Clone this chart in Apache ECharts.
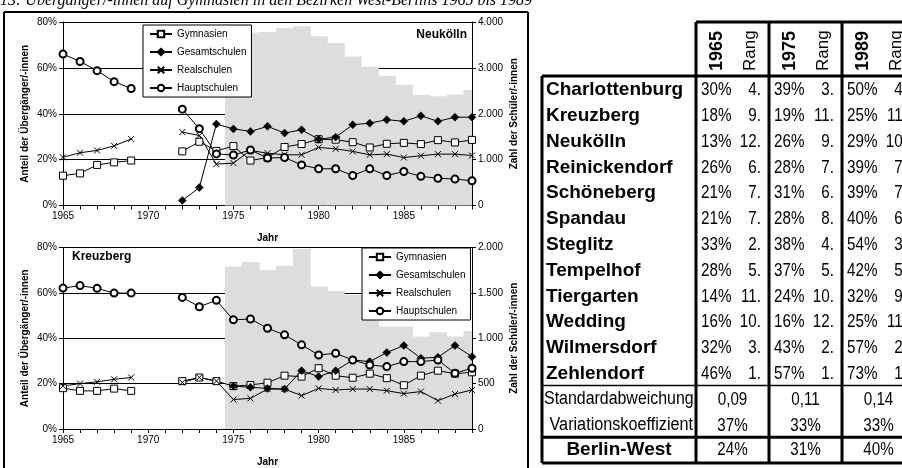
<!DOCTYPE html>
<html><head><meta charset="utf-8">
<script src="https://cdn.jsdelivr.net/npm/echarts@6/dist/echarts.min.js"></script>
<style>html,body{margin:0;padding:0;background:#fff}#c{width:902px;height:468px}</style>
</head><body><div id="c"></div>
<script>
// ---------- DATA ----------
const years = [1965,1966,1967,1968,1969,1970,1971,1972,1973,1974,1975,1976,1977,1978,1979,1980,1981,1982,1983,1984,1985,1986,1987,1988,1989];
const seriesNames = ['Gymnasien','Gesamtschulen','Realschulen','Hauptschulen'];
// Neukölln (% of transfers)
const nkGym   = [13,14,17.7,18.8,19.6,null,null,23.6,27.8,23.8,25.9,19.6,20.9,25.5,26.8,28.9,28.7,27.6,25.3,26.9,27.3,26.8,28.5,27.5,28.6];
const nkGes   = [null,null,null,null,null,null,null,2.2,7.8,35.5,33.4,32.3,34.5,31.6,33.0,28.9,29.8,35.2,35.9,37.4,36.7,39.1,36.7,38.5,38.5];
const nkReal  = [21,23,24,26,29,null,null,32,30.5,18,18.5,24,22.8,22.1,22.1,25.3,24.7,23.6,22.1,22.4,20.9,21.7,22.4,22.4,21.8];
const nkHaupt = [66,62.8,58.8,54,51,null,null,42,33.5,22.5,22,24.2,20.7,20.9,17.7,16,16,13.1,16,13.1,14.8,12.7,11.9,11.5,10.8];
// Neukölln pupils in grade 7 (from 1975)
const pupilYears = [1975,1976,1977,1978,1979,1980,1981,1982,1983,1984,1985,1986,1987,1988,1989];
const nkPupils = [3770,3770,3780,3870,3905,3690,3540,3250,3030,2830,2630,2410,2380,2420,2520];
// Kreuzberg
const kbGym   = [18,16.8,16.8,17.8,16.8,null,null,21.1,22.7,21.1,18.9,19.4,20.4,23.5,23.1,26.8,23.5,22.6,24.4,22.4,19.3,23.5,25.7,24.4,25.0];
const kbGes   = [null,null,null,null,null,null,null,null,null,null,18.9,18.4,17.9,17.6,25.7,23.1,25.7,30.4,29.7,33.7,36.8,31.2,31.6,36.8,31.9];
const kbReal  = [19,20,20.8,21.9,22.7,null,null,20.5,22.7,21.1,13.0,13.5,17.6,17.6,14.7,17.9,17.2,17.6,17.6,16.9,15.6,16.5,12.5,15.4,17.2];
const kbHaupt = [62.1,63.2,62.0,59.9,59.9,null,null,58.0,53.9,56.7,48.1,48.5,44.4,41.5,37.1,32.6,33.4,30.4,28.2,27.5,29.7,29.7,30.4,24.6,26.8];
const kbPupils = [1790,1840,1750,1800,1985,1570,1520,1480,1400,1130,1130,1020,1065,1020,1080];
// Table
const districts = ['Charlottenburg','Kreuzberg','Neukölln','Reinickendorf','Schöneberg','Spandau','Steglitz','Tempelhof','Tiergarten','Wedding','Wilmersdorf','Zehlendorf'];
const tableYears = ['1965','1975','1989'];
const pct1965 = ['30%','18%','13%','26%','21%','21%','33%','28%','14%','16%','32%','46%'];
const rank1965 = ['4.','9.','12.','6.','7.','7.','2.','5.','11.','10.','3.','1.'];
const pct1975 = ['39%','19%','26%','28%','31%','28%','38%','37%','24%','16%','43%','57%'];
const rank1975 = ['3.','11.','9.','7.','6.','8.','4.','5.','10.','12.','2.','1.'];
const pct1989 = ['50%','25%','29%','39%','39%','40%','54%','42%','32%','25%','57%','73%'];
const rank1989 = ['4.','11.','10.','7.','7.','6.','3.','5.','9.','11.','2.','1.'];
const stdDev = ['0,09','0,11','0,14'];
const varCoef = ['37%','33%','33%'];
const berlinWest = ['24%','31%','40%'];
const titleText = '13: Übergänger/-innen auf Gymnasien in den Bezirken West-Berlins 1965 bis 1989';

// ---------- CHART ----------
const FONT = 'Liberation Sans, Arial, sans-serif';
const chart = echarts.init(document.getElementById('c'), null, {renderer:'canvas'});
const pair = arr => years.map((y,i)=>[y,arr[i]]);
const thou = v => String(v).replace(/\B(?=(\d{3})+(?!\d))/g,'.');

const crossPath = 'path://M0,0L10,10M0,10L10,0';
const styles = {
  Gymnasien:{symbol:'rect',symbolSize:7,itemStyle:{color:'#fff',borderColor:'#000',borderWidth:1}},
  Gesamtschulen:{symbol:'diamond',symbolSize:8,itemStyle:{color:'#000',borderColor:'#000',borderWidth:0.5}},
  Realschulen:{symbol:crossPath,symbolSize:6,itemStyle:{color:'rgba(0,0,0,0)',borderColor:'#000',borderWidth:1}},
  Hauptschulen:{symbol:'circle',symbolSize:7,itemStyle:{color:'#fff',borderColor:'#000',borderWidth:2}}
};
function lineSeries(name, arr, gi){
  const s = styles[name];
  return {type:'line', name, xAxisIndex:gi, yAxisIndex:gi*2, data:pair(arr), connectNulls:false,
    symbol:s.symbol, symbolSize:s.symbolSize, showSymbol:true, itemStyle:s.itemStyle,
    lineStyle:{color:'#000',width:1}, z:5, animation:false, emphasis:{disabled:true}};
}
function barSeries(vals, gi){
  return {type:'custom', xAxisIndex:gi, yAxisIndex:gi*2+1, z:1, animation:false, silent:true,
    data: pupilYears.map((y,i)=>[y,vals[i]]),
    renderItem:(params, api)=>{
      const yr = api.value(0), v = api.value(1);
      const p1 = api.coord([yr-0.5, v]); const p2 = api.coord([yr+0.5, 0]);
      const cs = params.coordSys;
      const r = echarts.graphic.clipRectByRect({x:p1[0], y:p1[1], width:p2[0]-p1[0]+0.6, height:p2[1]-p1[1]},
        {x:cs.x, y:cs.y, width:cs.width, height:cs.height});
      if(!r) return;
      return {type:'rect', shape:r, style:{fill:'#dddddd'}};
    }};
}
function xAx(gi){
  return {type:'value', gridIndex:gi, min:1965, max:1989, interval:1,
    axisLine:{lineStyle:{color:'#000',width:1}}, axisTick:{length:4,lineStyle:{color:'#000'}},
    axisLabel:{formatter:v=> v%5===0?String(v):'', color:'#000', fontSize:10, fontFamily:FONT, margin:6},
    splitLine:{show:false}, name:'Jahr', nameLocation:'middle', nameGap:28,
    nameTextStyle:{fontWeight:'bold',fontSize:10,color:'#000',fontFamily:FONT}};
}
function yLeft(gi){
  return {type:'value', gridIndex:gi, min:0, max:80, interval:20, position:'left',
    axisLine:{show:true,lineStyle:{color:'#000'}}, axisTick:{show:true,length:4,lineStyle:{color:'#000'}},
    axisLabel:{formatter:'{value}%', color:'#000', fontSize:10, fontFamily:FONT, margin:6},
    splitLine:{show:true,lineStyle:{color:'#000',width:1}},
    name:'Anteil der Übergänger/-innen', nameLocation:'middle', nameRotate:90, nameGap:33,
    nameTextStyle:{fontWeight:'bold',fontSize:10,color:'#000',fontFamily:FONT}};
}
function yRight(gi,max,interval){
  return {type:'value', gridIndex:gi, min:0, max, interval, position:'right',
    axisLine:{show:true,lineStyle:{color:'#000'}}, axisTick:{show:true,length:4,lineStyle:{color:'#000'}},
    axisLabel:{formatter:v=>thou(v), color:'#000', fontSize:10, fontFamily:FONT, margin:6},
    splitLine:{show:false},
    name:'Zahl der Schüler/-innen', nameLocation:'middle', nameRotate:90, nameGap:37,
    nameTextStyle:{fontWeight:'bold',fontSize:10,color:'#000',fontFamily:FONT}};
}
function legend(left, top){
  return {data:seriesNames, orient:'vertical', left, top, itemWidth:22, itemHeight:8, itemGap:8,
    selectedMode:false, z:10, backgroundColor:'#fff', borderColor:'#000', borderWidth:1, borderRadius:0,
    padding:[4,5,4,6], textStyle:{fontSize:10,color:'#000',fontFamily:FONT}};
}

// ---------- GRAPHIC (frame, labels, table) ----------
const g = [];
const txt = (x,y,text,font,opts={}) => g.push(Object.assign({type:'text', x, y, silent:true,
  style:Object.assign({text, font, fill:'#000', align:'left', verticalAlign:'middle'}, opts.style||{})},
  opts.el||{}));
const line = (x1,y1,x2,y2,w) => g.push({type:'line', silent:true, z:20, shape:{x1,y1,x2,y2}, style:{stroke:'#000', lineWidth:w}});

// title (partly cut at top)
txt(0, 0.5, titleText, 'italic 16px "Liberation Serif", "Times New Roman", serif');
// frame around charts
line(4,12,528,12,2); line(4,12,4,470,2); line(528,12,528,470,2);
// chart labels
txt(467, 35, 'Neukölln', 'bold 12px '+FONT, {style:{align:'right'}});
txt(72, 257, 'Kreuzberg', 'bold 12px '+FONT);
txt(232, 190, 'Zahl der Schüler/-innen in Stufe 7', '10px '+FONT);
txt(308, 418, 'Zahl der Schüler/-innen in Stufe 7', '10px '+FONT);

// table
const TL = 542, NR = 696, GW = 73, HT = 22, BT = 76, RH = 25.8;
const pcts = [pct1965, pct1975, pct1989], ranks = [rank1965, rank1975, rank1989];
const NARROW = 0.8;
tableYears.forEach((yr, k) => {
  const gx = NR + k*GW;
  txt(gx+21, 71, yr, 'bold 18px '+FONT, {el:{rotation:Math.PI/2}});
  txt(gx+54, 71, 'Rang', '17px '+FONT, {el:{rotation:Math.PI/2}});
  districts.forEach((d,i) => {
    const cy = BT + RH*(i+0.5) + 1;
    txt(gx+5, cy, pcts[k][i], '19px '+FONT, {el:{scaleX:NARROW}});
    txt(gx+65, cy, ranks[k][i], '19px '+FONT, {el:{scaleX:NARROW}, style:{align:'right'}});
  });
  txt(gx+GW/2, BT+RH*12.5+1, stdDev[k], '19px '+FONT, {el:{scaleX:NARROW}, style:{align:'center'}});
  txt(gx+GW/2, BT+RH*13.5+1, varCoef[k], '19px '+FONT, {el:{scaleX:NARROW}, style:{align:'center'}});
  txt(gx+GW/2, BT+RH*14.5, berlinWest[k], '19px '+FONT, {el:{scaleX:NARROW}, style:{align:'center'}});
});
districts.forEach((d,i) => txt(546, BT + RH*(i+0.5)+1, d, 'bold 19px '+FONT));
txt(544, BT+RH*12.5+1, 'Standardabweichung', '18px '+FONT, {el:{scaleX:0.885}});
txt(693, BT+RH*13.5+1, 'Variationskoeffizient', '18px '+FONT, {el:{scaleX:0.9}, style:{align:'right'}});
txt(619, BT+RH*14.5, 'Berlin-West', 'bold 19px '+FONT, {style:{align:'center'}});
// table lines
const TB = BT + RH*15;
line(NR, HT, 910, HT, 3);
line(TL, BT, 910, BT, 3);
line(TL, BT, TL, TB, 3);
[0,1,2].forEach(k => line(NR+k*GW, HT, NR+k*GW, TB, 3));
line(TL, BT+RH*12, 910, BT+RH*12, 1.5);
line(TL, BT+RH*14, 910, BT+RH*14, 3);
line(TL, TB, 910, TB, 3);

chart.setOption({
  animation:false,
  backgroundColor:'#fff',
  grid:[{left:63, top:22, width:409, height:183.5},{left:63, top:247.5, width:409, height:181.5}],
  xAxis:[xAx(0), xAx(1)],
  yAxis:[yLeft(0), yRight(0,4000,1000), yLeft(1), yRight(1,2000,500)],
  legend:[legend(143,25), legend(362,248)],
  series:[
    barSeries(nkPupils,0),
    lineSeries('Gymnasien',nkGym,0), lineSeries('Gesamtschulen',nkGes,0),
    lineSeries('Realschulen',nkReal,0), lineSeries('Hauptschulen',nkHaupt,0),
    barSeries(kbPupils,1),
    lineSeries('Gymnasien',kbGym,1), lineSeries('Gesamtschulen',kbGes,1),
    lineSeries('Realschulen',kbReal,1), lineSeries('Hauptschulen',kbHaupt,1)
  ],
  graphic:g
});
</script></body></html>
